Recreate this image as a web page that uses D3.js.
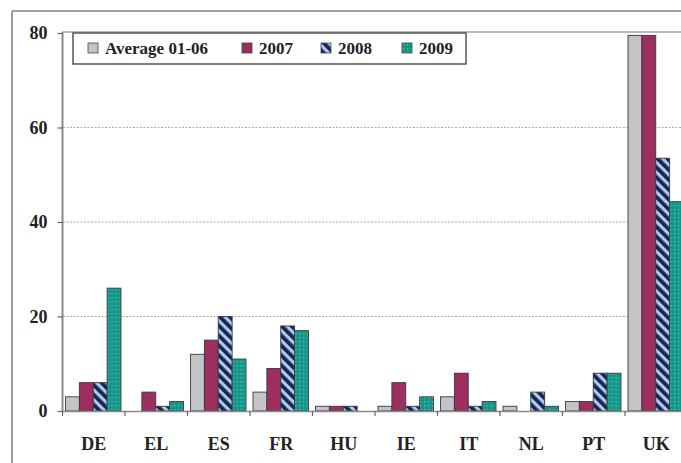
<!DOCTYPE html>
<html>
<head>
<meta charset="utf-8">
<script src="https://cdn.jsdelivr.net/npm/d3@7"></script>
<style>
  html, body { margin: 0; padding: 0; background: #fff; }
  svg { display: block; }
  text { font-family: "Liberation Serif", "Times New Roman", serif; font-weight: bold; fill: #222; }
</style>
</head>
<body>
<svg id="chart" width="681" height="463"></svg>
<script>
// Countries on the x axis
const countries = ["DE", "EL", "ES", "FR", "HU", "IE", "IT", "NL", "PT", "UK"];
// Series names shown in the legend
const seriesNames = ["Average 01-06", "2007", "2008", "2009"];
// Values per series, in country order
const avg0106 = [3, 0, 12, 4, 1, 1, 3, 1, 2, 79.5];
const y2007   = [6, 4, 15, 9, 1, 6, 8, 0, 2, 79.5];
const y2008   = [6, 1, 20, 18, 1, 1, 1, 4, 8, 53.5];
const y2009   = [26, 2, 11, 17, 0, 3, 2, 1, 8, 44.3];
// Y axis ticks
const yTicks = [0, 20, 40, 60, 80];

const seriesValues = [avg0106, y2007, y2008, y2009];

const svg = d3.select("#chart");
const defs = svg.append("defs");

// Diagonal stripes for 2008
const hatch = defs.append("pattern")
  .attr("id", "hatch2008")
  .attr("patternUnits", "userSpaceOnUse")
  .attr("width", 7).attr("height", 7)
  .attr("patternTransform", "rotate(-45)");
hatch.append("rect").attr("width", 7).attr("height", 7).attr("fill", "#a8cdf0");
hatch.append("rect").attr("x", 0).attr("width", 3.8).attr("height", 7).attr("fill", "#1c2550");

// Fine dots over teal for 2009
const dots = defs.append("pattern")
  .attr("id", "dots2009")
  .attr("patternUnits", "userSpaceOnUse")
  .attr("width", 4).attr("height", 4);
dots.append("rect").attr("width", 4).attr("height", 4).attr("fill", "#14968a");
dots.append("rect").attr("x", 1).attr("y", 1).attr("width", 1.3).attr("height", 1.3).attr("fill", "#5cc2b6");

const fills = ["#c4c4c8", "#9c2f5f", "url(#hatch2008)", "url(#dots2009)"];

// Outer frame of the chart
svg.append("line").attr("x1", 12).attr("x2", 681).attr("y1", 11).attr("y2", 11)
  .attr("stroke", "#a0a0a0").attr("stroke-width", 2);
svg.append("line").attr("x1", 12).attr("x2", 12).attr("y1", 11).attr("y2", 463)
  .attr("stroke", "#a0a0a0").attr("stroke-width", 2);

// Scales
const x = d3.scaleBand().domain(countries).range([62.5, 687.5]).padding(0);
const xs = d3.scaleBand().domain(d3.range(seriesNames.length)).range([3, 58.5]).padding(0);
const y = d3.scaleLinear().domain([0, 80]).range([411, 33]);

// Plot area top edge
svg.append("line").attr("x1", 62.5).attr("x2", 681).attr("y1", 32).attr("y2", 32)
  .attr("stroke", "#a0a0a0").attr("stroke-width", 1.5);

// Dotted gridlines
svg.append("g").selectAll("line")
  .data(yTicks.filter(t => t > 0 && t < 80))
  .join("line")
  .attr("x1", 63).attr("x2", 681)
  .attr("y1", d => y(d)).attr("y2", d => y(d))
  .attr("stroke", "#a8a8a8").attr("stroke-width", 1.2)
  .attr("stroke-dasharray", "2,1.5");

// Bars
const groups = svg.append("g").selectAll("g")
  .data(countries)
  .join("g")
  .attr("transform", d => `translate(${x(d)},0)`);

groups.selectAll("rect")
  .data((c, i) => seriesValues.map((vals, s) => ({ s, v: vals[i] })))
  .join("rect")
  .filter(d => d.v > 0)
  .attr("x", d => xs(d.s))
  .attr("width", xs.bandwidth())
  .attr("y", d => y(d.v))
  .attr("height", d => y(0) - y(d.v))
  .attr("fill", d => fills[d.s])
  .attr("stroke", "#3a3a3a")
  .attr("stroke-width", 0.9);

// Y axis
const yAxis = svg.append("g")
  .attr("transform", "translate(62.5,0)")
  .call(d3.axisLeft(y).tickValues(yTicks).tickSize(5).tickPadding(10).tickFormat(d3.format("d")));
yAxis.select(".domain").attr("stroke", "#8a8a8a").attr("stroke-width", 2)
  .attr("d", `M0,${y(0)}V32`);
yAxis.selectAll(".tick line").attr("stroke", "#666").attr("stroke-width", 1.2);
yAxis.selectAll(".tick text")
  .attr("font-family", "Liberation Serif, Times New Roman, serif")
  .attr("font-weight", "bold").attr("font-size", 18).attr("fill", "#222");

// X axis
const xAxis = svg.append("g")
  .attr("transform", `translate(0,${y(0)})`)
  .call(d3.axisBottom(x).tickSize(0).tickPadding(26));
xAxis.select(".domain").attr("stroke", "#8a8a8a").attr("stroke-width", 1.5);
xAxis.selectAll(".tick text")
  .attr("font-family", "Liberation Serif, Times New Roman, serif")
  .attr("font-weight", "bold").attr("font-size", 18).attr("fill", "#222");
// Band boundary tick marks
xAxis.append("g").selectAll("line")
  .data(countries)
  .join("line")
  .attr("x1", d => x(d)).attr("x2", d => x(d))
  .attr("y1", 0).attr("y2", 5)
  .attr("stroke", "#666").attr("stroke-width", 1.2);

// Legend
const legend = svg.append("g");
legend.append("rect")
  .attr("x", 73).attr("y", 33).attr("width", 393).attr("height", 31)
  .attr("fill", "#fff").attr("stroke", "#555").attr("stroke-width", 1.5);
const swatchX = [88, 242, 321, 402];
const items = legend.selectAll("g.item")
  .data(seriesNames)
  .join("g").attr("class", "item")
  .attr("transform", (d, i) => `translate(${swatchX[i]},43)`);
items.append("rect")
  .attr("width", 10).attr("height", 10)
  .attr("fill", (d, i) => fills[i])
  .attr("stroke", "#444").attr("stroke-width", 0.8);
items.append("text")
  .attr("x", 17).attr("y", 11)
  .attr("font-size", 17)
  .text(d => d);
</script>
</body>
</html>
